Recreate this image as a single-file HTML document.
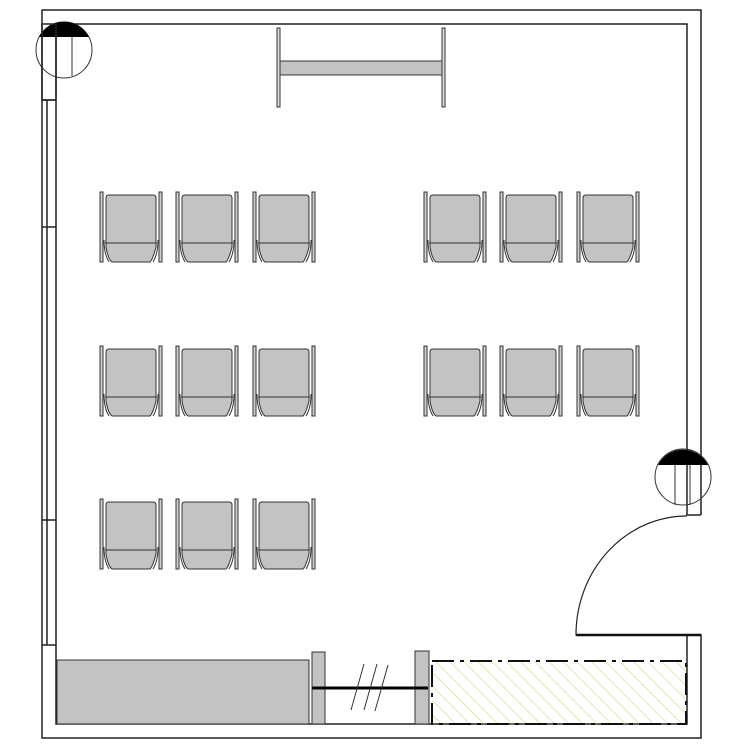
<!DOCTYPE html>
<html><head><style>body{margin:0;background:#fff}</style></head><body>
<svg width="750" height="750" viewBox="0 0 750 750" xmlns="http://www.w3.org/2000/svg">
<defs>
<pattern id="h" width="10" height="10" patternUnits="userSpaceOnUse" patternTransform="rotate(-45)">
<line x1="0" y1="0" x2="0" y2="10" stroke="#dcd47a" stroke-width="1.2"/>
</pattern>
<g id="c">
<rect x="0" y="0" width="3" height="70" fill="#d0d0d0" stroke="#333" stroke-width="1"/>
<rect x="59" y="0" width="3" height="70" fill="#d0d0d0" stroke="#333" stroke-width="1"/>
<path d="M6,6 Q6,3 9,3 L53,3 Q56,3 56,6 L56,55 Q53,67 50,70 L12,70 Q8,67 6,55 Z" fill="#c3c3c3" stroke="#333" stroke-width="1"/>
<path d="M5,51 L57,51" stroke="#333" stroke-width="1"/>
<path d="M4,48 Q4,62 9,70 M58,48 Q58,62 53,70" fill="none" stroke="#333" stroke-width="1"/>
</g>
</defs>
<g fill="none" stroke="#222" stroke-width="1.5">
<path d="M42,100 L42,10 L701,10 L701,515"/>
<path d="M56,100 L56,24 L687,24 L687,515 L701,515"/>
<path d="M42,645 L42,738 L701,738 L701,635 L687,635 L687,724 L56,724 L56,645 L42,645"/>
<path d="M42,100 L56,100 M42,100 L42,645 M47,100 L47,645 M56,100 L56,645 M42,227 L56,227 M42,520 L56,520"/>
</g>
<circle cx="64" cy="50" r="28" fill="none" stroke="#333" stroke-width="1"/>
<path d="M39,37 A28,28 0 0 1 89,37 Z" fill="#000"/>
<rect x="42" y="24" width="14" height="76" fill="none" stroke="#222" stroke-width="1.5"/>
<line x1="72" y1="37" x2="72" y2="76" stroke="#333"/>
<circle cx="683" cy="477" r="28" fill="none" stroke="#333" stroke-width="1"/>
<path d="M658,465 A28,28 0 0 1 708,465 Z" fill="#000"/>
<line x1="675" y1="465" x2="675" y2="505" stroke="#333"/>
<line x1="690" y1="465" x2="690" y2="505" stroke="#333"/>
<path d="M687,516 A111,119 0 0 0 576,635 L701,635" fill="none" stroke="#222" stroke-width="1.2"/>
<line x1="576" y1="635" x2="701" y2="635" stroke="#111" stroke-width="2.5"/>
<rect x="277" y="28" width="3" height="79" fill="#ddd" stroke="#333"/>
<rect x="442" y="28" width="3" height="79" fill="#ddd" stroke="#333"/>
<rect x="280" y="61" width="162" height="14" fill="#c3c3c3" stroke="#333"/>
<use href="#c" x="100" y="192"/><use href="#c" x="176" y="192"/><use href="#c" x="253" y="192"/>
<use href="#c" x="424" y="192"/><use href="#c" x="500" y="192"/><use href="#c" x="577" y="192"/>
<use href="#c" x="100" y="346"/><use href="#c" x="176" y="346"/><use href="#c" x="253" y="346"/>
<use href="#c" x="424" y="346"/><use href="#c" x="500" y="346"/><use href="#c" x="577" y="346"/>
<use href="#c" x="100" y="499"/><use href="#c" x="176" y="499"/><use href="#c" x="253" y="499"/>
<rect x="57" y="660" width="252" height="64" fill="#c3c3c3" stroke="#333"/>
<rect x="312" y="652" width="13" height="72" fill="#c3c3c3" stroke="#333"/>
<rect x="415" y="651" width="14" height="73" fill="#c3c3c3" stroke="#333"/>
<line x1="312" y1="688" x2="428" y2="688" stroke="#000" stroke-width="3"/>
<path d="M351,710 L364,664 M364,710 L377,664 M375,711 L388,665" stroke="#333"/>
<rect x="432" y="661" width="254" height="63" fill="url(#h)" stroke="#111" stroke-width="2" stroke-dasharray="22,6,4,6"/>
</svg>
</body></html>
